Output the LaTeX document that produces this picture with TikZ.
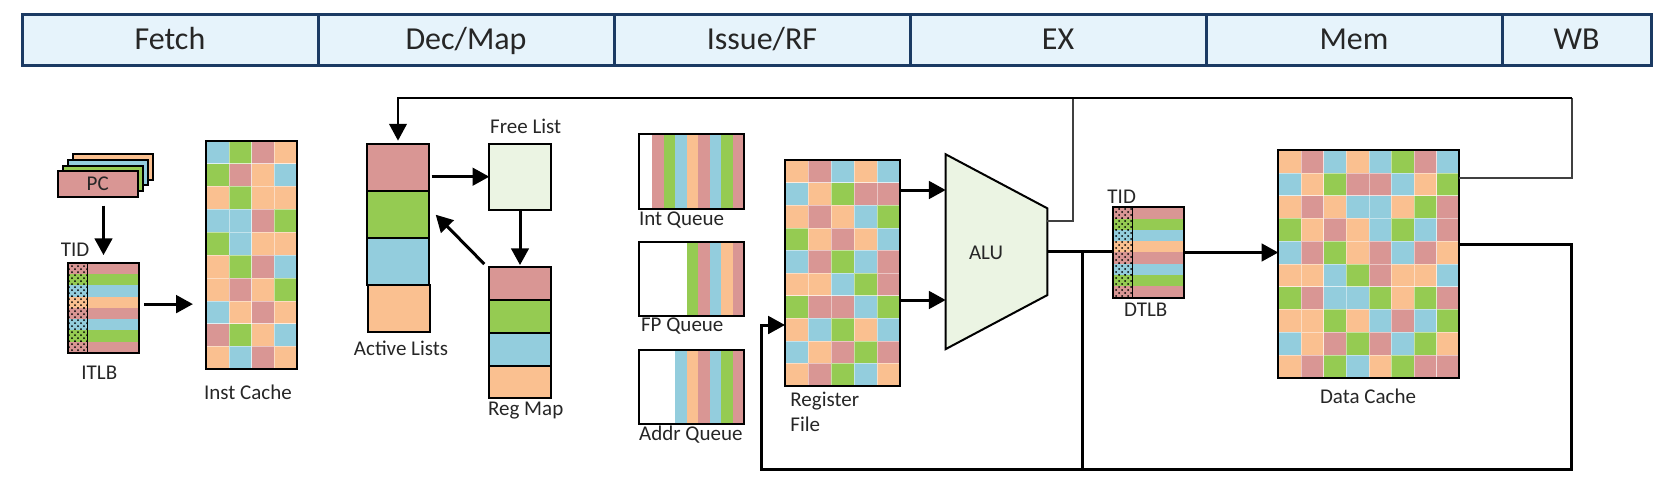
\documentclass[tikz,border=0pt]{standalone}
\usepackage{fontspec}
\setmainfont{Carlito}
\usetikzlibrary{arrows.meta,patterns,shapes.geometric}

\definecolor{cr}{HTML}{D99694}
\definecolor{cg}{HTML}{95CB52}
\definecolor{cb}{HTML}{93CDDD}
\definecolor{co}{HTML}{FAC090}
\definecolor{stagefill}{HTML}{E6F3FB}
\definecolor{stageline}{HTML}{1B3A63}
\definecolor{palegreen}{HTML}{EBF4E3}
\definecolor{labelgray}{HTML}{262626}

\tikzset{
  stagebox/.style={draw=stageline,fill=stagefill,line width=1.5pt,inner sep=0pt,minimum height=25.5pt,text height=12.5pt,text depth=3pt,text=labelgray,font=\fontsize{16}{18}\selectfont},
  blockbox/.style={draw=black,line width=1pt,inner sep=0pt,outer sep=0pt},
  labeltext/.style={inner sep=0pt,text=labelgray,align=left,font=\fontsize{10.5}{12.5}\selectfont},
  arrowline/.style={line width=1.5pt,-{Triangle[length=8.4pt,width=8.8pt]}},
  buswire/.style={line width=1.5pt},
  topwire/.style={line width=1pt},
  thinwire/.style={line width=0.9pt,draw=black!75},
}

% x y cellwidth cellheight rows
\newcommand{\cellgrid}[5]{
  \foreach \cellrow [count=\celly] in {#5} {
    \foreach \cellc [count=\cellx] in \cellrow {
      \path[fill=\cellc] ({#1+(\cellx-1)*#3},{#2+(\celly-1)*#4}) rectangle +(#3,#4);
      \path[draw=white,draw opacity=0.45,line width=0.2pt] ({#1+(\cellx-1)*#3},{#2+(\celly-1)*#4}) rectangle +(#3,#4);
    }
  }
}
% x y right-edge stripes (listed from the right)
\newcommand{\queuestripes}[4]{
  \foreach \cellc [count=\cellx] in {#4} {
    \fill[\cellc] ({#3-\cellx*11.45},#1) rectangle ({#3-(\cellx-1)*11.45},#2);
  }
}
% left split right top
\newcommand{\tlbrows}[4]{
  \foreach \cellc [count=\celly] in {cr,cg,cb,co,cr,cb,cg,cr} {
    \fill[\cellc] (#1,{#4+(\celly-1)*11.28}) rectangle (#3,{#4+\celly*11.28});
    \fill[pattern=crosshatch dots,pattern color=black] (#1,{#4+(\celly-1)*11.28}) rectangle (#2,{#4+\celly*11.28});
  }
  \draw[line width=0.5pt] (#2,#4) -- (#2,{#4+90});
}

\begin{document}
\begin{tikzpicture}[x=0.5pt,y=-0.5pt]
\useasboundingbox (0,0) rectangle (1667,494);

% pipeline stages
\node[stagebox,minimum width=148pt] (fetch) at (170,39.5) {Fetch};
\node[stagebox,minimum width=148pt] (decmap) at (466,39.5) {Dec/Map};
\node[stagebox,minimum width=148pt] (issue) at (762,39.5) {Issue/RF};
\node[stagebox,minimum width=148pt] (ex) at (1058,39.5) {EX};
\node[stagebox,minimum width=148pt] (mem) at (1354,39.5) {Mem};
\node[stagebox,minimum width=74.5pt] (wb) at (1576.5,39.5) {WB};

% fetch
\node[blockbox,fill=co,minimum width=40pt,minimum height=12.7pt] (pcd) at (112.7,167) {};
\node[blockbox,fill=cb,minimum width=40pt,minimum height=12.7pt] (pcc) at (107.7,172.7) {};
\node[blockbox,fill=cg,minimum width=40pt,minimum height=12.7pt] (pcb) at (102.7,178.3) {};
\node[blockbox,fill=cr,minimum width=40pt,minimum height=12.7pt,text=labelgray,font=\fontsize{10.5}{12}\selectfont] (pc) at (97.7,184) {PC};
\tlbrows{68.3}{87.3}{138.7}{262.7}
\node[blockbox,minimum width=35.2pt,minimum height=45pt] (itlb) at (103.5,307.7) {};
\node[labeltext] (itlbtid) at (75,250) {TID};
\node[labeltext] (itlblabel) at (99.3,373) {ITLB};
\cellgrid{206.3}{140.7}{22.6}{22.86}{{cb,cg,cr,co},{cg,cr,co,cb},{co,cg,co,co},{cb,cb,cr,cg},{cg,cb,co,co},{co,cg,cr,cb},{co,cr,co,cg},{cb,co,cr,co},{cr,cg,co,cb},{co,cb,cr,co}}
\node[blockbox,minimum width=45.2pt,minimum height=114.3pt] (instcache) at (251.5,255) {};
\node[labeltext] (instlabel) at (248,392) {Inst Cache};

% dec/map
\node[blockbox,fill=cr,minimum width=30.7pt,minimum height=23.65pt] (alistr) at (398,167.3) {};
\node[blockbox,fill=cg,minimum width=30.7pt,minimum height=23.65pt] (alistg) at (398,214.7) {};
\node[blockbox,fill=cb,minimum width=30.7pt,minimum height=23.65pt] (alistb) at (398,261.7) {};
\node[blockbox,fill=co,minimum width=30.7pt,minimum height=23.65pt] (alisto) at (399,308.8) {};
\node[labeltext] (alistlabel) at (401,348) {Active Lists};
\node[blockbox,fill=palegreen,minimum width=30.7pt,minimum height=33pt] (freelist) at (520,176.7) {};
\node[labeltext] (freelabel) at (525.7,126) {Free List};
\node[blockbox,fill=cr,minimum width=30.7pt,minimum height=16.65pt] (regr) at (520,283.7) {};
\node[blockbox,fill=cg,minimum width=30.7pt,minimum height=16.35pt] (regg) at (520,316.7) {};
\node[blockbox,fill=cb,minimum width=30.7pt,minimum height=16.35pt] (regb) at (520,349.3) {};
\node[blockbox,fill=co,minimum width=30.7pt,minimum height=16.3pt] (rego) at (520,382) {};
\node[labeltext] (reglabel) at (525.7,410.7) {Reg Map};

% issue/rf
\queuestripes{133.7}{209}{744}{cr,cg,cb,cr,co,cb,cg,cr}
\node[blockbox,minimum width=52.35pt,minimum height=37.65pt] (intq) at (691.7,171.35) {};
\node[labeltext,anchor=west] (intlabel) at (638.7,220) {Int Queue};
\queuestripes{241.7}{315.7}{744}{cr,co,cb,cr,cg}
\node[blockbox,minimum width=52.35pt,minimum height=37pt] (fpq) at (691.7,278.7) {};
\node[labeltext,anchor=west] (fplabel) at (640.7,326) {FP Queue};
\queuestripes{350}{423.7}{744}{cr,cg,cb,cr,co,cb}
\node[blockbox,minimum width=52.35pt,minimum height=36.85pt] (addrq) at (691.7,386.85) {};
\node[labeltext,anchor=west] (addrlabel) at (638.7,435) {Addr Queue};
\cellgrid{785}{160}{23}{22.6}{{co,cr,cb,co,cb},{cb,co,cg,cr,cr},{co,cr,co,cb,cg},{cg,co,cr,co,cb},{cb,cr,cg,cb,cr},{co,co,cb,cg,cr},{cg,cr,cr,cb,cg},{co,cb,cg,co,cb},{cb,co,cr,cg,cr},{co,cr,cg,cb,co}}
\node[blockbox,minimum width=57.5pt,minimum height=113pt] (regfile) at (842.5,273) {};
\node[labeltext,anchor=west] (rflabel) at (790,411.5) {Register\\File};

% ex
\node[blockbox,fill=palegreen,trapezium,shape border rotate=270,trapezium stretches=true,trapezium left angle=56.5,trapezium right angle=56.5,minimum width=97.6pt,minimum height=50.8pt,inner sep=2pt] (alu) at (996.5,251.7) {\phantom{A}};
\node[labeltext] (alulabel) at (986,252.7) {ALU};

% mem
\tlbrows{1113.3}{1132.3}{1184}{207.3}
\node[blockbox,minimum width=35.35pt,minimum height=45.2pt] (dtlb) at (1148.65,252.5) {};
\node[labeltext] (dtlbtid) at (1121.7,196.7) {TID};
\node[labeltext] (dtlblabel) at (1145.7,310) {DTLB};
\cellgrid{1278.3}{150}{22.625}{22.77}{{co,cr,cb,co,cb,cg,cr,cb},{cb,co,cg,cr,cr,cb,co,cg},{co,cr,co,cb,cb,co,cg,cr},{cg,co,cr,co,cb,cg,cb,cr},{cb,cr,cg,co,cr,cb,cr,co},{co,co,cb,cg,cr,co,co,cb},{cg,cr,cb,cb,cg,co,cg,cr},{co,co,cg,co,cb,cr,cb,cg},{cb,co,cr,cg,cr,cb,cg,co},{co,cr,cg,cb,co,cg,cr,cr}}
\node[blockbox,minimum width=90.5pt,minimum height=113.85pt] (dcache) at (1368.8,263.85) {};
\node[labeltext] (dcachelabel) at (1368,396.7) {Data Cache};

% wire corners
\coordinate (topright) at (1571.7,98.3);
\coordinate (topjoin) at (1072.7,98.3);
\coordinate (botright) at (1571.7,469.3);
\coordinate (botleft) at (761.7,469.3);
\coordinate (exjoin) at (1082.7,251.7);

% fetch arrows
\draw[arrowline,shorten <=4.5pt,shorten >=3.8pt] (itlb.north |- pc.south) -- (itlb.north);
\draw[arrowline,shorten <=2.7pt,shorten >=6.7pt] ([yshift=1.8pt]itlb.east) -- ([yshift=1.8pt]itlb.east -| instcache.west);

% rename arrows
\draw[arrowline,shorten <=1.5pt] (freelist.west -| alistr.east) -- (freelist.west);
\draw[arrowline,shorten >=1pt] (freelist.south) -- (regr.north);
\draw[arrowline] ([xshift=-2.5pt,yshift=1.5pt]regr.north west) -- ([xshift=3.5pt]alistg.east);

% execute and memory wires
\draw[arrowline] ([yshift=41.5pt]regfile.east) -- ([yshift=41.5pt]regfile.east -| alu.west);
\draw[arrowline] ([yshift=-13.5pt]regfile.east) -- ([yshift=-13.5pt]regfile.east -| alu.west);
\draw[thinwire] ([yshift=15.5pt]alu.east) -| (topjoin);
\draw[buswire] (alu.east) -- (alu.east -| dtlb.west);
\draw[arrowline] (dtlb.east) -- (dtlb.east -| dcache.west);
\draw[buswire] (exjoin) -- (exjoin |- botleft);

% write back wires
\draw[thinwire] ([yshift=42.8pt]dcache.east) -| (topright);
\draw[topwire,-{Triangle[length=8.4pt,width=8.8pt]},shorten >=1.5pt] (topright) -| (alistr.north);
\draw[arrowline] ([yshift=9.6pt]dcache.east) -| (botright) -- (botleft) |- ([yshift=-26pt]regfile.west);

\end{tikzpicture}
\end{document}
